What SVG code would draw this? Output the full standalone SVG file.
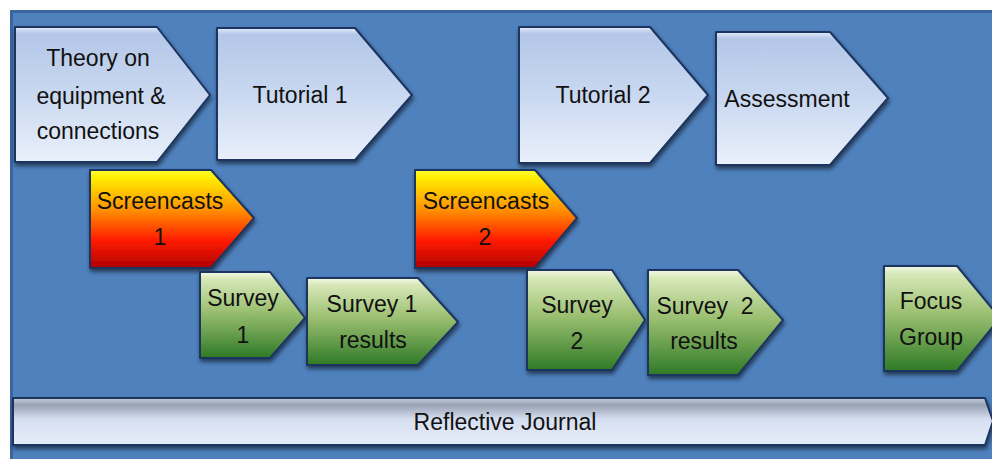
<svg xmlns="http://www.w3.org/2000/svg" width="992" height="459" viewBox="0 0 992 459">
<defs>
<linearGradient id="gBlue" x1="0" y1="0" x2="0" y2="1">
<stop offset="0" stop-color="#e4ecf8"/>
<stop offset="0.05" stop-color="#b4c7e8"/>
<stop offset="0.5" stop-color="#c9d8f0"/>
<stop offset="1" stop-color="#eaf0fb"/>
</linearGradient>
<linearGradient id="gRed" x1="0" y1="0" x2="0" y2="1">
<stop offset="0" stop-color="#ffff30"/>
<stop offset="0.08" stop-color="#ffee00"/>
<stop offset="0.42" stop-color="#ff8c00"/>
<stop offset="0.72" stop-color="#ff1a00"/>
<stop offset="1" stop-color="#b00000"/>
</linearGradient>
<linearGradient id="gGreen" x1="0" y1="0" x2="0" y2="1">
<stop offset="0" stop-color="#f2f8e4"/>
<stop offset="0.08" stop-color="#d7e8b8"/>
<stop offset="0.45" stop-color="#9cc072"/>
<stop offset="1" stop-color="#2f7a26"/>
</linearGradient>
<linearGradient id="gJournal" x1="0" y1="0" x2="0" y2="1">
<stop offset="0" stop-color="#c7cfdc"/>
<stop offset="0.15" stop-color="#98a2b4"/>
<stop offset="0.45" stop-color="#d6dff0"/>
<stop offset="1" stop-color="#e6edfa"/>
</linearGradient>
<filter id="sh" x="-10%" y="-10%" width="125%" height="130%">
<feGaussianBlur in="SourceAlpha" stdDeviation="2"/>
<feOffset dx="1" dy="3" result="b"/>
<feComponentTransfer><feFuncA type="linear" slope="0.55"/></feComponentTransfer>
<feMerge><feMergeNode/><feMergeNode in="SourceGraphic"/></feMerge>
</filter>
</defs>
<style>
.shape{stroke:#1c3560;stroke-width:2;stroke-linejoin:round;filter:url(#sh)}
.blue{fill:url(#gBlue)}
.red{fill:url(#gRed)}
.green{fill:url(#gGreen)}
.journal{fill:url(#gJournal)}
text{font-family:"Liberation Sans",Arial,sans-serif;font-size:23px;fill:#111;text-anchor:middle;white-space:pre}
</style>
<rect x="0" y="0" width="992" height="459" fill="#ffffff"/>
<rect x="10" y="10" width="982" height="449" fill="#4f81bd"/>
<rect x="10" y="10" width="982" height="3" fill="#3a659e"/>
<rect x="10" y="10" width="3" height="449" fill="#3a659e"/>

<g id="connectors"></g>

<g id="theory">
<path class="shape blue" d="M15,27 H157 L210,95 L157,162 H15 Z"/>
<text x="98" y="66">Theory on</text>
<text x="101" y="104">equipment &amp;</text>
<text x="98" y="139">connections</text>
</g>
<g id="tutorial1">
<path class="shape blue" d="M217,28 H355 L412,95 L355,160 H217 Z"/>
<text x="300" y="103">Tutorial 1</text>
</g>
<g id="tutorial2">
<path class="shape blue" d="M519,27 H650 L708,95 L650,163 H519 Z"/>
<text x="603" y="103">Tutorial 2</text>
</g>
<g id="assessment">
<path class="shape blue" d="M716,32 H830 L888,98 L830,165 H716 Z"/>
<text x="787" y="107">Assessment</text>
</g>
<g id="screencasts1">
<path class="shape red" d="M90,170 H211 L254,218 L211,268 H90 Z"/>
<text x="160" y="209">Screencasts</text>
<text x="160" y="245">1</text>
</g>
<g id="screencasts2">
<path class="shape red" d="M415,170 H535 L577,218 L535,268 H415 Z"/>
<text x="486" y="209">Screencasts</text>
<text x="485" y="245">2</text>
</g>
<g id="survey1">
<path class="shape green" d="M200,272 H270 L305,318 L270,358 H200 Z"/>
<text x="243" y="306">Survey</text>
<text x="243" y="343">1</text>
</g>
<g id="survey1results">
<path class="shape green" d="M307,278 H418 L458,322 L418,365 H307 Z"/>
<text x="372" y="312">Survey 1</text>
<text x="373" y="348">results</text>
</g>
<g id="survey2">
<path class="shape green" d="M527,270 H612 L645,320 L612,370 H527 Z"/>
<text x="577" y="313">Survey</text>
<text x="577" y="349">2</text>
</g>
<g id="survey2results">
<path class="shape green" d="M648,270 H738 L783,320 L738,375 H648 Z"/>
<text x="705" y="314">Survey  2</text>
<text x="704" y="349">results</text>
</g>
<g id="focusgroup">
<path class="shape green" d="M884,266 H957 L1000,318 L957,371 H884 Z"/>
<text x="931" y="309">Focus</text>
<text x="931" y="345">Group</text>
</g>
<g id="journal">
<path class="shape journal" d="M13,398 H985 L993,421 L985,445 H13 Z"/>
<text x="505" y="430">Reflective Journal</text>
</g>
</svg>
